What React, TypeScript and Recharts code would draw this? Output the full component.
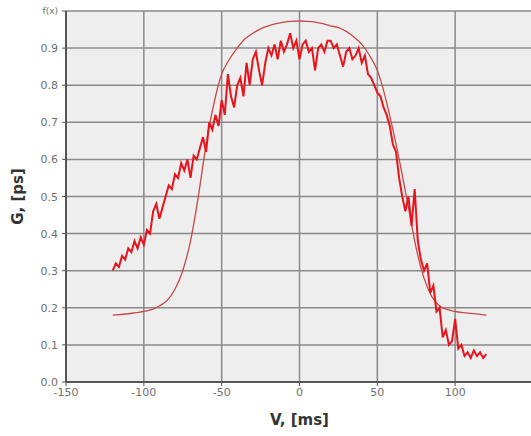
import React from "react";
import { LineChart, Line, XAxis, YAxis, CartesianGrid, Label } from "recharts";

const xTicks = [-150, -100, -50, 0, 50, 100];
const xGrid = [-150, -100, -50, 0, 50, 100, 150];
const yTicks = [0, 0.1, 0.2, 0.3, 0.4, 0.5, 0.6, 0.7, 0.8, 0.9, 1.0];

const smoothX = [-120, -115, -110, -105, -100, -95, -90, -85, -80, -75, -70, -65, -60, -55, -50, -45, -40, -35, -30, -25, -20, -15, -10, -5, 0, 5, 10, 15, 20, 25, 30, 35, 40, 45, 50, 55, 60, 65, 70, 75, 80, 85, 90, 95, 100, 105, 110, 115, 120];
const smoothY = [0.180, 0.182, 0.184, 0.187, 0.19, 0.195, 0.205, 0.22, 0.25, 0.30, 0.38, 0.50, 0.64, 0.75, 0.83, 0.87, 0.90, 0.925, 0.94, 0.952, 0.96, 0.966, 0.970, 0.972, 0.973, 0.972, 0.970, 0.966, 0.96, 0.955, 0.945, 0.93, 0.91, 0.88, 0.84, 0.77, 0.68, 0.58, 0.47, 0.36, 0.28, 0.23, 0.205, 0.195, 0.19, 0.187, 0.185, 0.183, 0.18];

const noisyX = [-120, -118, -116, -114, -112, -110, -108, -106, -104, -102, -100, -98, -96, -94, -92, -90, -88, -86, -84, -82, -80, -78, -76, -74, -72, -70, -68, -66, -64, -62, -60, -58, -56, -54, -52, -50, -48, -46, -44, -42, -40, -38, -36, -34, -32, -30, -28, -26, -24, -22, -20, -18, -16, -14, -12, -10, -8, -6, -4, -2, 0, 2, 4, 6, 8, 10, 12, 14, 16, 18, 20, 22, 24, 26, 28, 30, 32, 34, 36, 38, 40, 42, 44, 46, 48, 50, 52, 54, 56, 58, 60, 62, 64, 66, 68, 70, 72, 74, 76, 78, 80, 82, 84, 86, 88, 90, 92, 94, 96, 98, 100, 102, 104, 106, 108, 110, 112, 114, 116, 118, 120];
const noisyY = [0.30, 0.32, 0.31, 0.34, 0.33, 0.36, 0.35, 0.38, 0.36, 0.39, 0.37, 0.41, 0.40, 0.46, 0.48, 0.44, 0.47, 0.50, 0.53, 0.52, 0.56, 0.55, 0.59, 0.57, 0.60, 0.55, 0.61, 0.60, 0.63, 0.66, 0.62, 0.70, 0.68, 0.72, 0.69, 0.76, 0.72, 0.83, 0.77, 0.74, 0.80, 0.82, 0.77, 0.86, 0.80, 0.87, 0.89, 0.84, 0.80, 0.86, 0.90, 0.88, 0.91, 0.87, 0.92, 0.89, 0.91, 0.94, 0.90, 0.92, 0.87, 0.91, 0.92, 0.89, 0.90, 0.84, 0.90, 0.91, 0.89, 0.92, 0.92, 0.90, 0.91, 0.88, 0.85, 0.89, 0.90, 0.87, 0.88, 0.90, 0.86, 0.88, 0.83, 0.82, 0.80, 0.78, 0.77, 0.74, 0.72, 0.69, 0.64, 0.62, 0.55, 0.50, 0.46, 0.50, 0.42, 0.52, 0.38, 0.33, 0.30, 0.32, 0.24, 0.26, 0.19, 0.20, 0.12, 0.14, 0.10, 0.11, 0.17, 0.09, 0.10, 0.07, 0.08, 0.065, 0.085, 0.07, 0.08, 0.065, 0.075];

const smoothData = smoothX.map((x, i) => ({ x, y: smoothY[i] }));
const noisyData = noisyX.map((x, i) => ({ x, y: noisyY[i] }));

const FONT = "Tahoma, 'DejaVu Sans', Arial, sans-serif";

const YTick = (props: any) => {
  const { x, y, payload } = props;
  const top = payload.value >= 0.999;
  return (
    <text
      x={x - 2}
      y={y}
      dy={top ? 3 : 4}
      textAnchor="end"
      fontSize={top ? 9 : 11}
      fill="#707070"
      fontFamily={FONT}
    >
      {top ? "f(x)" : payload.value.toFixed(1)}
    </text>
  );
};

export default function App() {
  return (
    <div style={{ position: "absolute", left: 0, top: 0, width: 531, height: 436, overflow: "hidden", background: "#fff" }}>
      <LineChart width={540} height={436} margin={{ top: 11, right: 7, bottom: 24, left: 26 }}>
        <CartesianGrid fill="#eeeeee" stroke="#8a8a8a" strokeWidth={1.5} horizontalValues={yTicks} verticalValues={xGrid} />
        <XAxis
          type="number"
          dataKey="x"
          domain={[-150, 150]}
          ticks={xTicks}
          height={30}
          axisLine={{ stroke: "#555", strokeWidth: 2 }}
          tickLine={{ stroke: "#555" }}
          tickSize={4}
          tick={{ fontSize: 11, fill: "#707070", fontFamily: FONT }}
          allowDataOverflow
        >
          <Label value="V, [ms]" position="insideBottom" offset={-13} style={{ fontSize: 15, fontWeight: "bold", fill: "#333", fontFamily: FONT }} />
        </XAxis>
        <YAxis
          type="number"
          domain={[0, 1]}
          ticks={yTicks}
          width={40}
          axisLine={{ stroke: "#555", strokeWidth: 2 }}
          tickLine={{ stroke: "#555" }}
          tickSize={4}
          tick={<YTick />}
          allowDataOverflow
        >
          <Label value="G, [ps]" angle={-90} position="insideLeft" offset={-8} style={{ fontSize: 15, fontWeight: "bold", fill: "#333", textAnchor: "middle", fontFamily: FONT }} />
        </YAxis>
        <Line data={smoothData} dataKey="y" type="monotone" stroke="#c84848" strokeWidth={1.3} dot={false} isAnimationActive={false} />
        <Line data={noisyData} dataKey="y" type="linear" stroke="#e8141c" strokeWidth={2} dot={false} isAnimationActive={false} />
      </LineChart>
    </div>
  );
}
